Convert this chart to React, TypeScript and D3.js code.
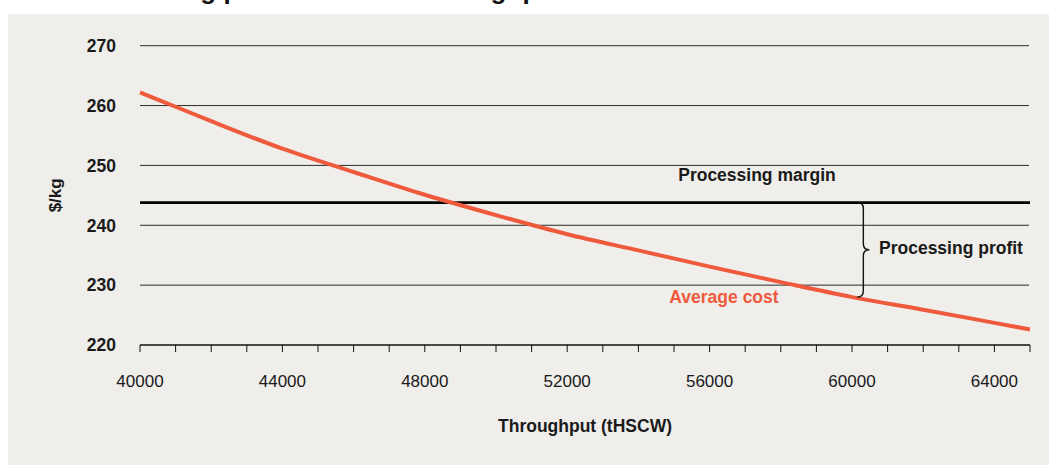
import * as d3 from 'd3';

// average cost curve ($/kg by throughput)
const throughput = [40000, 41000, 42000, 44000, 46000, 48000, 50000, 52000, 54000, 56000, 58000, 60000, 62000, 64000, 65000];
const averageCost = [262.2, 259.8, 257.4, 252.8, 248.9, 245.1, 241.7, 238.5, 235.8, 233.1, 230.5, 228.0, 225.9, 223.7, 222.6];
const processingMargin = 243.8;
const yTicks = [220, 230, 240, 250, 260, 270];
const xLabelTicks = [40000, 44000, 48000, 52000, 56000, 60000, 64000];
const braceAt = { x: 60150, top: processingMargin, bottom: 228.0 };

const W = 1050;
const H = 466;
const FONT = '"Liberation Sans", Arial, sans-serif';
const RED = '#EF5A3D';

export default function App() {
  const x = d3.scaleLinear().domain([40000, 65000]).range([140, 1030]);
  const y = d3.scaleLinear().domain([220, 270]).range([345, 45.7]);

  const pts: [number, number][] = throughput.map((t, i) => [t, averageCost[i]]);
  const line = d3.line<[number, number]>()
    .x(d => x(d[0]))
    .y(d => y(d[1]))
    .curve(d3.curveMonotoneX);

  const minorTicks = d3.range(40000, 65001, 1000);

  // curly brace pointing right
  const bx = x(braceAt.x);
  const by0 = y(braceAt.top);
  const by1 = y(braceAt.bottom);
  const bm = (by0 + by1) / 2;
  const bw = 6;
  const brace = `M${bx},${by0} q${bw},0 ${bw},${bw} L${bx + bw},${bm - bw} q0,${bw} ${bw},${bw} q-${bw},0 -${bw},${bw} L${bx + bw},${by1 - bw} q0,${bw} -${bw},${bw}`;

  return (
    <svg width={W} height={H} style={{ position: 'absolute', left: 0, top: 0, fontFamily: FONT }}>
      <rect x={0} y={0} width={W} height={H} fill="#fff" />
      {/* title, mostly cropped off above the frame */}
      <text x={76} y={-1.5} fontSize={26} fontWeight="bold" fill="#111">
        Processing profit rises with throughput
      </text>
      <rect x={8} y={14} width={1041} height={451} fill="#EFEEEA" />

      {/* gridlines */}
      {yTicks.filter(t => t > 220).map(t => (
        <line key={t} x1={x(40000)} x2={x(65000) - 1} y1={y(t)} y2={y(t)} stroke="#2a2a2a" strokeWidth={1} />
      ))}
      {yTicks.map(t => (
        <text key={t} x={116} y={y(t)} dy="0.36em" textAnchor="end" fontSize={17.5} fontWeight="bold" fill="#1a1a1a">
          {t}
        </text>
      ))}

      {/* x axis */}
      <line x1={x(40000)} x2={x(65000)} y1={y(220)} y2={y(220)} stroke="#111" strokeWidth={1.3} />
      {minorTicks.map(t => (
        <line key={t} x1={x(t)} x2={x(t)} y1={y(220)} y2={y(220) + 7} stroke="#111" strokeWidth={1} />
      ))}
      {xLabelTicks.map(t => (
        <text key={t} x={x(t)} y={386.5} textAnchor="middle" fontSize={17} fill="#1a1a1a">
          {t}
        </text>
      ))}
      <text x={(x(40000) + x(65000)) / 2} y={431.5} textAnchor="middle" fontSize={17.5} fontWeight="bold" fill="#1a1a1a">
        Throughput (tHSCW)
      </text>
      <text transform={`translate(61,${(y(220) + y(270)) / 2}) rotate(-90)`} textAnchor="middle" fontSize={17} fontWeight="bold" fill="#1a1a1a">
        $/kg
      </text>

      {/* processing margin */}
      <line x1={x(40000)} x2={x(65000)} y1={y(processingMargin)} y2={y(processingMargin)} stroke="#000" strokeWidth={2.8} />
      <text x={757} y={181} textAnchor="middle" fontSize={17.5} fontWeight="bold" fill="#1a1a1a">
        Processing margin
      </text>

      {/* average cost */}
      <path d={line(pts) ?? ''} fill="none" stroke={RED} strokeWidth={4} />
      <text x={724} y={303} textAnchor="middle" fontSize={17.5} fontWeight="bold" fill={RED}>
        Average cost
      </text>

      {/* processing profit */}
      <path d={brace} fill="none" stroke="#111" strokeWidth={1.4} />
      <text x={879} y={254} fontSize={17.5} fontWeight="bold" fill="#1a1a1a">
        Processing profit
      </text>
    </svg>
  );
}
